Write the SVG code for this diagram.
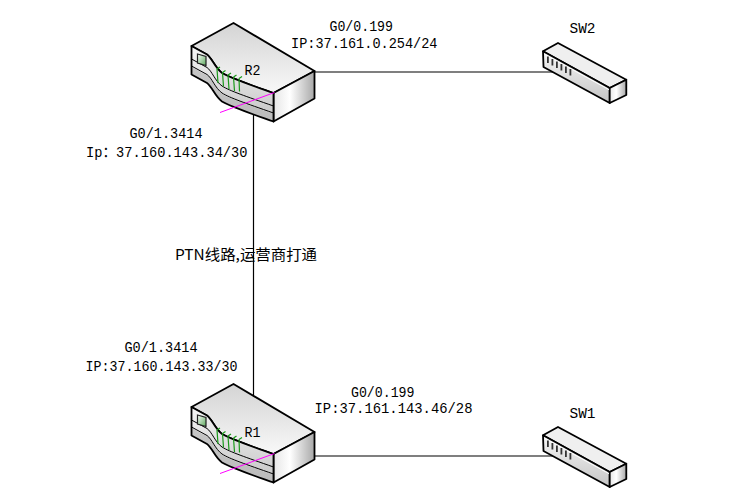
<svg xmlns="http://www.w3.org/2000/svg" xmlns:xlink="http://www.w3.org/1999/xlink" width="743" height="497" viewBox="0 0 743 497">
<style>
  .lbl { font-family: "Liberation Mono", "Noto Sans CJK SC", monospace; font-size: 15px; fill: #000; }
  .cjk { font-family: "Noto Sans CJK SC", "Liberation Sans", sans-serif; font-size: 15px; fill: #000; }
  .conn { stroke: #000; stroke-width: 1.2; fill: none; }
  .edge { stroke: #000; stroke-width: 1.8; stroke-linejoin: round; }
  .thin { stroke: #000; stroke-width: 1; fill: none; }
</style>
<defs>
  <linearGradient id="gTop" x1="0" y1="0" x2="0" y2="1">
    <stop offset="0" stop-color="#d4d4d4"/>
    <stop offset="1" stop-color="#f8f8f8"/>
  </linearGradient>
  <linearGradient id="gFront" x1="0" y1="0" x2="0" y2="1">
    <stop offset="0" stop-color="#f6f6f6"/>
    <stop offset="1" stop-color="#c4c4c4"/>
  </linearGradient>
  <linearGradient id="gSide" x1="0" y1="0" x2="1" y2="0">
    <stop offset="0" stop-color="#e6e6e6"/>
    <stop offset="0.4" stop-color="#ffffff"/>
    <stop offset="1" stop-color="#a8a8a8"/>
  </linearGradient>
  <linearGradient id="gLed" x1="0" y1="0" x2="1" y2="1">
    <stop offset="0" stop-color="#ffffff"/>
    <stop offset="1" stop-color="#5aa85a"/>
  </linearGradient>
  <g id="routerShape">
    <path class="edge" fill="url(#gTop)" d="M191.5,46 L233.5,23 L314.5,71 L273.5,93 C245,83 230,78 222,73 C215,68 212,58 207,54.5 Z"/>
    <path class="edge" fill="url(#gSide)" d="M273.5,93 L314.5,71 L314.5,98.5 L273.5,121.5 Z"/>
    <path fill="url(#gFront)" d="M191.5,46 L207,54.5 C212,58 215,68 222,73 C230,78 245,83 273.5,93 L273.5,121.5 C245,111.5 230,106.5 222,101.5 C215,96.5 212,86.5 207,83 L191.5,74.5 Z"/>
    <path fill="#b8b8b8" opacity="0.7" d="M191.5,67 L207,75.5 C212,79 215,89 222,94 C230,99 245,104 273.5,114 L273.5,121.5 C245,111.5 230,106.5 222,101.5 C215,96.5 212,86.5 207,83 L191.5,74.5 Z"/>
    <path class="thin" d="M191.5,59 L207,67.5 C212,71 215,81 222,86 C230,91 245,96 273.5,106"/>
    <path class="thin" d="M191.5,66 L207,74.5 C212,78 215,88 222,93 C230,98 245,103 273.5,113"/>
    <path class="edge" fill="none" d="M191.5,46 L207,54.5 C212,58 215,68 222,73 C230,78 245,83 273.5,93 L273.5,121.5 C245,111.5 230,106.5 222,101.5 C215,96.5 212,86.5 207,83 L191.5,74.5 Z"/>
    <path d="M197.5,54 L206,56.5 L206,65.5 L197.5,63 Z" fill="url(#gLed)" stroke="#222" stroke-width="1.2"/>
    <g stroke="#1a9a1a" stroke-width="1.2" fill="none">
      <path d="M217,69 l1,14 M217,69 l3,-2"/>
      <path d="M222.5,72.5 l1,14 M222.5,72.5 l3,-2"/>
      <path d="M228,75 l1,14 M228,75 l3,-2"/>
      <path d="M233.5,77 l1,14 M233.5,77 l3,-2"/>
      <path d="M239,78.5 l0.5,13 M239,78.5 l3,-2"/>
    </g>
    <line x1="220" y1="112.5" x2="274.5" y2="92.5" stroke="#ff00ff" stroke-width="1"/>
  </g>
  <g id="switchShape">
    <path class="edge" fill="#efefef" d="M543,51.3 L558,43 L626.3,79.7 L609.7,88 Z"/>
    <path class="edge" fill="url(#gFront)" d="M543,51.3 L609.7,88 L609.7,103 L543.5,67 Z"/>
    <path class="edge" fill="url(#gSide)" d="M609.7,88 L626.3,79.7 L626.3,95 L609.7,103 Z"/>
    <line x1="545" y1="54.5" x2="609" y2="89.7" stroke="#ffffff" stroke-width="1"/>
    <g fill="#333">
      <rect x="547" y="56.5" width="1.8" height="6.5"/>
      <rect x="551.5" y="59" width="1.8" height="6.5"/>
      <rect x="556" y="61.5" width="1.8" height="6.5"/>
      <rect x="560.5" y="64" width="1.8" height="6.5"/>
      <rect x="565" y="66.5" width="1.8" height="6.5"/>
      <rect x="569.5" y="69" width="1.8" height="6.5"/>
    </g>
  </g>
</defs>

<g id="connectors">
  <line class="conn" x1="300" y1="72" x2="553" y2="72"/>
  <line class="conn" x1="253.5" y1="110" x2="253.5" y2="400"/>
  <line class="conn" x1="300" y1="456" x2="553" y2="456"/>
</g>

<g id="R2">
  <use xlink:href="#routerShape"/>
  <text class="lbl" x="244.5" y="75" textLength="16" lengthAdjust="spacingAndGlyphs">R2</text>
</g>
<g id="R1" transform="translate(0,361)">
  <use xlink:href="#routerShape"/>
  <text class="lbl" x="244.5" y="75.5" textLength="16" lengthAdjust="spacingAndGlyphs">R1</text>
</g>
<g id="SW2">
  <use xlink:href="#switchShape"/>
  <text class="lbl" x="569.5" y="33.3" textLength="26" lengthAdjust="spacingAndGlyphs">SW2</text>
</g>
<g id="SW1" transform="translate(0,384)">
  <use xlink:href="#switchShape"/>
  <text class="lbl" x="569.5" y="34.3" textLength="26" lengthAdjust="spacingAndGlyphs">SW1</text>
</g>

<g id="labels">
  <text class="lbl" x="329.5" y="31" textLength="63.5" lengthAdjust="spacingAndGlyphs">G0/0.199</text>
  <text class="lbl" x="291" y="48.3" textLength="146.5" lengthAdjust="spacingAndGlyphs">IP:37.161.0.254/24</text>
  <text class="lbl" x="129.5" y="138.3" textLength="73" lengthAdjust="spacingAndGlyphs">G0/1.3414</text>
  <text class="lbl" x="86" y="156.7" textLength="161.5" lengthAdjust="spacingAndGlyphs">Ip：37.160.143.34/30</text>
  <text class="cjk" x="175" y="260" textLength="142" lengthAdjust="spacingAndGlyphs">PTN线路,运营商打通</text>
  <text class="lbl" x="124.5" y="352.3" textLength="73" lengthAdjust="spacingAndGlyphs">G0/1.3414</text>
  <text class="lbl" x="85.5" y="371" textLength="152" lengthAdjust="spacingAndGlyphs">IP:37.160.143.33/30</text>
  <text class="lbl" x="351" y="396.7" textLength="63.5" lengthAdjust="spacingAndGlyphs">G0/0.199</text>
  <text class="lbl" x="314.5" y="413.3" textLength="158" lengthAdjust="spacingAndGlyphs">IP:37.161.143.46/28</text>
</g>
</svg>
